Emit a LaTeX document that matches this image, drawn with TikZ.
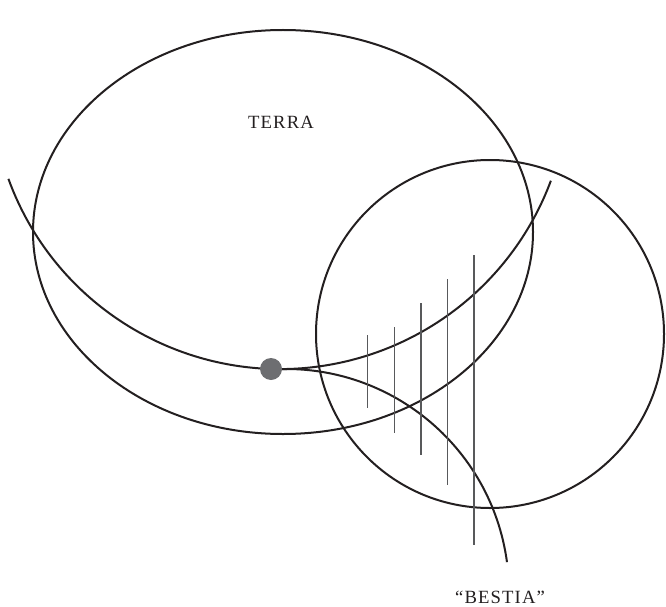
\documentclass[tikz,border=0pt]{standalone}
\usepackage{fontspec}
\setmainfont{Liberation Serif}
\usepackage{tikz}
\definecolor{ink}{HTML}{231F20}
\definecolor{hatchgray}{HTML}{58595B}
\definecolor{dotgray}{HTML}{6D6E71}

\begin{document}
\begin{tikzpicture}[
  x=0.75pt, y=-0.75pt,
  curve/.style={draw=ink, line width=1.5pt},
  hatch/.style={draw=hatchgray, line width=0.9pt},
  spot/.style={circle, fill=dotgray, minimum size=16.5pt, inner sep=0pt},
  lbl/.style={font=\fontsize{14}{16}\selectfont\addfontfeature{LetterSpace=6}, text=ink, inner sep=0pt}]
\useasboundingbox (0,0) rectangle (666,606);
% centres
\coordinate (terrac) at (283,232);
\coordinate (bestc) at (490,334);
\coordinate (orbitc) at (280,80);
\coordinate (pathc) at (286,592);
% ellipse and circle
\draw[curve] (terrac) ellipse[x radius=250, y radius=202];
\draw[curve] (bestc) circle[radius=174];
% the two arcs
\draw[curve] (orbitc) ++(160:289) arc[start angle=160, end angle=20.4, radius=289];
\draw[curve] (pathc) ++(-94:223) arc[start angle=-94, end angle=-7.7, radius=223];
\node[spot] (dot) at (271,369) {};
% hatching
\foreach \hx/\htop/\hbot in {367.5/335/408, 394.5/327/433, 421/303/455, 447.5/279/485, 474/255/545}
  \draw[hatch] (\hx,\htop) -- (\hx,\hbot);
\node[lbl] (terra) at (281,122) {TERRA};
\node[lbl] (bestia) at (500,597) {“BESTIA”};
\end{tikzpicture}
\end{document}
